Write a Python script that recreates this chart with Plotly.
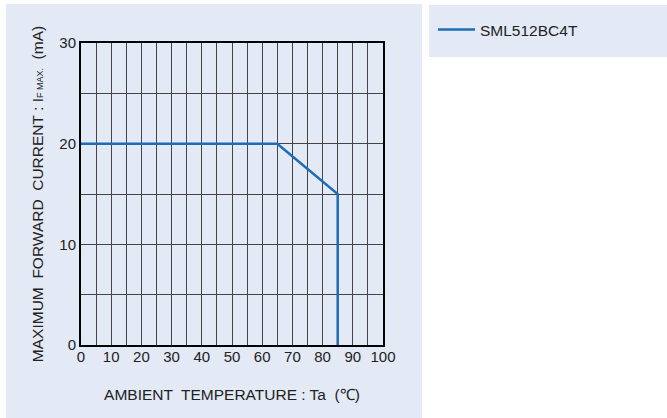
import plotly.graph_objects as go

series_name = "SML512BC4T"
temperature = [0, 65, 85, 85]
current = [20, 20, 15, 0]
x_ticks = [0, 10, 20, 30, 40, 50, 60, 70, 80, 90, 100]
y_ticks = [0, 10, 20, 30]

W, H = 667, 418
L, R, T, B = 81, 383, 43, 345
pw, ph = R - L, B - T

def px(x):
    return (x - L) / pw

def py(y):
    return (B - y) / ph

panel = "#e3e9f5"
fig = go.Figure()
fig.add_trace(go.Scatter(x=temperature, y=current, mode="lines", name=series_name,
                         line=dict(color="#1d6cb8", width=2.5)))

fig.update_layout(
    width=W, height=H,
    margin=dict(l=L, r=W - R, t=T, b=H - B),
    paper_bgcolor="white", plot_bgcolor="white",
    font=dict(family="Liberation Sans, Arial, sans-serif", color="#222", size=15),
    showlegend=True,
    legend=dict(x=px(433), y=py(13), xanchor="left", yanchor="top", itemwidth=37,
                bgcolor="rgba(0,0,0,0)", font=dict(size=15.5, color="#222")),
    shapes=[
        dict(type="rect", xref="paper", yref="paper", x0=px(6), x1=px(422), y0=py(418), y1=py(4),
             fillcolor=panel, line=dict(width=0), layer="below"),
        dict(type="rect", xref="paper", yref="paper", x0=px(429), x1=px(667), y0=py(57), y1=py(5),
             fillcolor=panel, line=dict(width=0), layer="below"),
    ],
)

fig.update_xaxes(range=[0, 100], tickvals=x_ticks, ticks="", showgrid=True,
                 gridcolor="#444", gridwidth=1,
                 minor=dict(dtick=5, showgrid=True, gridcolor="#444", gridwidth=1),
                 showline=True, mirror=True, linecolor="black", linewidth=2,
                 zeroline=False, tickfont=dict(size=15), ticklabelstandoff=-3,
                 title=dict(text="AMBIENT  TEMPERATURE : Ta  (℃)", font=dict(size=15.5), standoff=25))
fig.update_yaxes(range=[0, 30], tickvals=y_ticks, ticks="", showgrid=True,
                 gridcolor="#444", gridwidth=1,
                 minor=dict(dtick=5, showgrid=True, gridcolor="#444", gridwidth=1),
                 showline=True, mirror=True, linecolor="black", linewidth=2,
                 zeroline=False, tickfont=dict(size=15),
                 title=dict(text="MAXIMUM  FORWARD  CURRENT : I<span style='font-size:9px'>F MAX.</span>  (mA)",
                            font=dict(size=15.5), standoff=12))

fig.write_html("out.html", config={"displayModeBar": False},
               post_script="document.body.style.margin='0';")
